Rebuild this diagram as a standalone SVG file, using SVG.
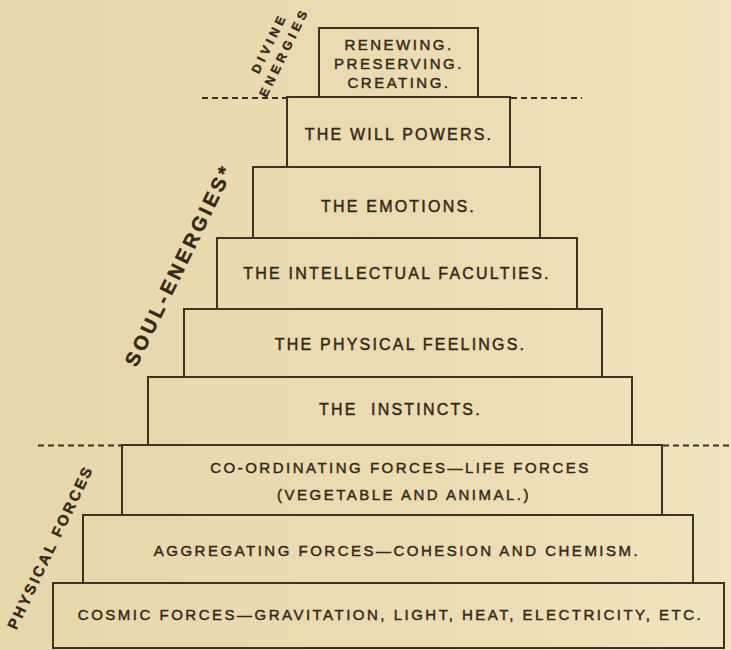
<svg xmlns="http://www.w3.org/2000/svg" width="731" height="650" viewBox="0 0 731 650">
<defs>
<linearGradient id="bg" x1="0" y1="0" x2="1" y2="0">
<stop offset="0" stop-color="#e8d7aa"/>
<stop offset="0.6" stop-color="#ecdcb2"/>
<stop offset="1" stop-color="#f1e3bd"/>
</linearGradient>
<style>
.box{fill:none;stroke:#3e3222;stroke-width:2}
.t{font-family:"Liberation Sans",Arial,sans-serif;fill:#342919;stroke:#342919;stroke-width:0.45;text-anchor:middle}
.u{font-size:16px;letter-spacing:2.2px}
.s{font-size:15px;letter-spacing:2.5px}
.lab{font-family:"Liberation Sans",Arial,sans-serif;font-weight:bold;fill:#342919;stroke:#342919;stroke-width:0.4;text-anchor:middle}
.dash{fill:none;stroke:#3e3222;stroke-width:2;stroke-dasharray:6 4}
</style>
</defs>
<rect width="731" height="650" fill="url(#bg)"/>

<g id="connectors">
<path class="dash" d="M202 98 H287"/>
<path class="dash" d="M511 98 H582"/>
<path class="dash" d="M38 445.5 H121"/>
<path class="dash" d="M663 445.5 H731"/>
</g>

<g id="divine">
<rect class="box" x="319" y="28" width="159" height="69"/>
<text class="t s" x="399" y="50">RENEWING.</text>
<text class="t s" x="399" y="69">PRESERVING.</text>
<text class="t s" x="399" y="88">CREATING.</text>
</g>
<g id="will">
<rect class="box" x="287" y="97" width="223" height="70"/>
<text class="t u" x="399" y="140">THE WILL POWERS.</text>
</g>
<g id="emotions">
<rect class="box" x="253" y="167" width="287" height="71"/>
<text class="t u" x="398.5" y="212">THE EMOTIONS.</text>
</g>
<g id="intellect">
<rect class="box" x="217" y="238" width="360" height="71"/>
<text class="t u" x="397" y="279">THE INTELLECTUAL FACULTIES.</text>
</g>
<g id="physical">
<rect class="box" x="184" y="309" width="418" height="68"/>
<text class="t u" x="400.5" y="350">THE PHYSICAL FEELINGS.</text>
</g>
<g id="instincts">
<rect class="box" x="148" y="377" width="484" height="68"/>
<text class="t u" x="400.5" y="415" xml:space="preserve">THE  INSTINCTS.</text>
</g>
<g id="coordinating">
<rect class="box" x="122" y="445" width="540" height="70"/>
<text class="t s" x="400.5" y="473">CO-ORDINATING FORCES—LIFE FORCES</text>
<text class="t s" x="404" y="500">(VEGETABLE AND ANIMAL.)</text>
</g>
<g id="aggregating">
<rect class="box" x="83" y="515" width="610" height="68"/>
<text class="t s" x="397" y="556">AGGREGATING FORCES—COHESION AND CHEMISM.</text>
</g>
<g id="cosmic">
<rect class="box" x="53" y="583" width="671" height="65"/>
<text class="t s" x="390.5" y="620">COSMIC FORCES—GRAVITATION, LIGHT, HEAT, ELECTRICITY, ETC.</text>
</g>

<g id="labels">
<g transform="translate(269 43) rotate(-64)">
<text class="lab" x="0" y="4.5" font-size="12.5" letter-spacing="4">DIVINE</text>
</g>
<g transform="translate(284 52) rotate(-64)">
<text class="lab" x="0" y="4.5" font-size="12.5" letter-spacing="4.2">ENERGIES</text>
</g>
<g transform="translate(179 265) rotate(-64)">
<text class="lab" x="0" y="7" font-size="20" letter-spacing="3.5">SOUL-ENERGIES*</text>
</g>
<g transform="translate(50 547) rotate(-64.5)">
<text class="lab" x="0" y="5.5" font-size="15" letter-spacing="2.5">PHYSICAL FORCES</text>
</g>
</g>
</svg>
